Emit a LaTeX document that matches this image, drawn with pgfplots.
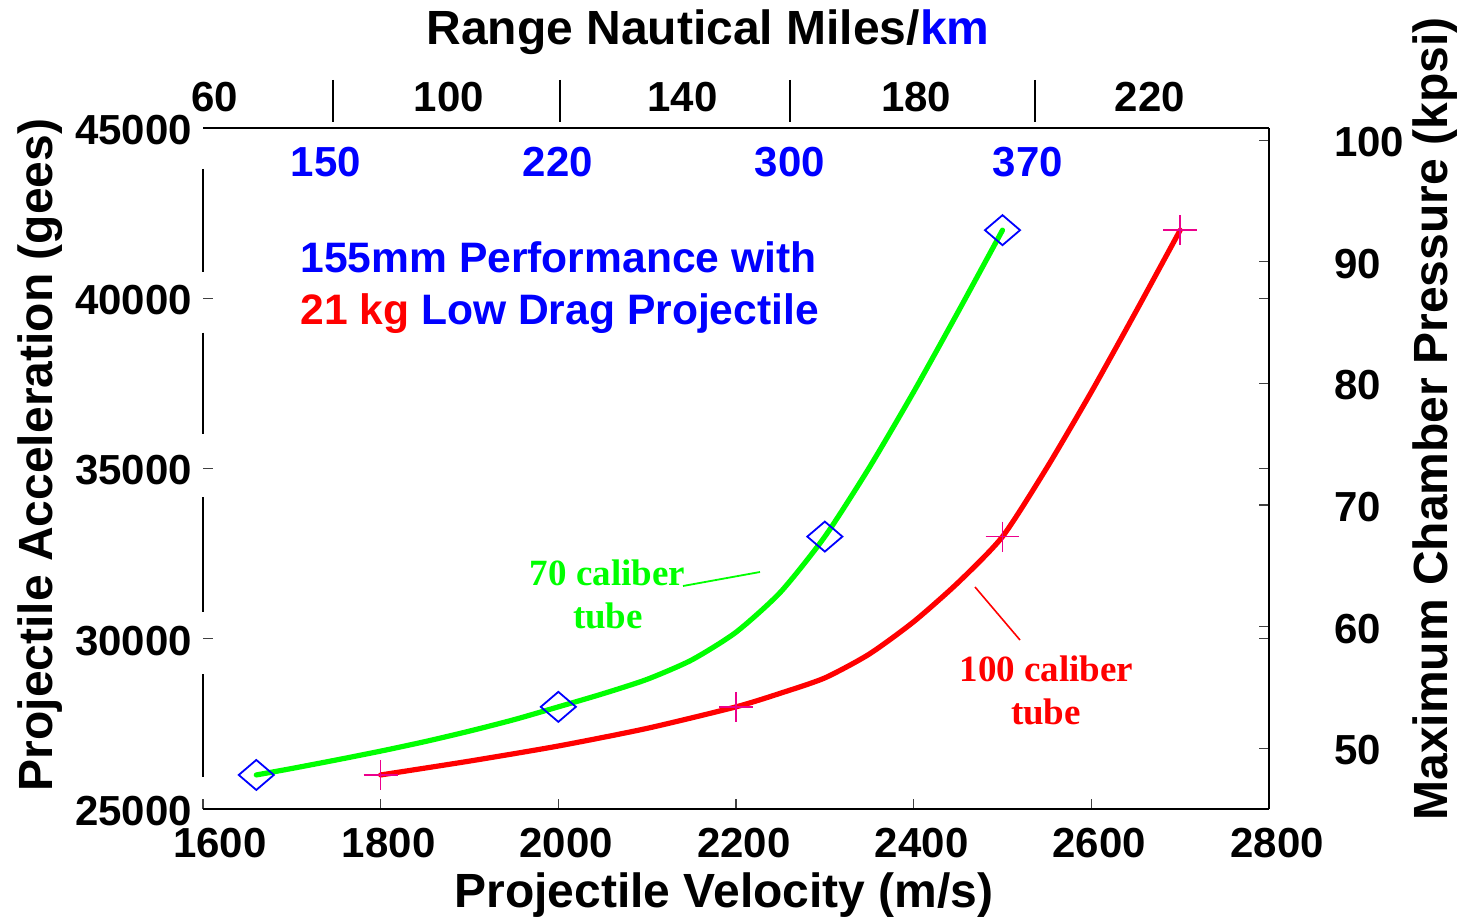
\documentclass[border=0pt]{standalone}
\usepackage{pgfplots}
\pgfplotsset{compat=1.18}
\usepackage{fontspec}
\setmainfont{Liberation Sans}
\newfontfamily\timesfont{Liberation Serif}
\newcommand{\tickfont}{\bfseries\fontsize{21}{21}\selectfont}
\newcommand{\labfont}{\bfseries\fontsize{24}{24}\selectfont}
\newcommand{\notefont}{\bfseries\fontsize{21.3}{21.3}\selectfont}
\newcommand{\tubefont}{\timesfont\bfseries\fontsize{18.5}{18.5}\selectfont}

\begin{document}
\begin{tikzpicture}
\path[use as bounding box] (0,0) rectangle (731pt,458.5pt);

% ---------- right axis: maximum chamber pressure (kpsi)
\begin{axis}[
  at={(101.5pt,54pt)}, anchor=south west, scale only axis,
  width=533pt, height=340.5pt,
  xmin=0, xmax=1, ymin=45, ymax=101,
  hide x axis, axis y line*=right, axis line style={draw=none},
  ytick={50,60,...,100},
  tick align=inside, major tick length=5pt,
  tick style={line width=0.6pt, black!75},
  yticklabel style={font=\tickfont, anchor=west, xshift=29pt, yshift=-1pt},
  /pgf/number format/assume math mode=true,
]
\end{axis}

% ---------- top axis: range in nautical miles / km
\begin{axis}[
  at={(101.5pt,54pt)}, anchor=south west, scale only axis,
  width=533pt, height=340.5pt,
  xmin=57.95, xmax=240.36, ymin=0, ymax=1,
  hide y axis, axis x line*=top, axis line style={draw=none},
  xtick={60,100,140,180,220}, major tick length=0pt,
  xticklabel style={font=\tickfont, yshift=4.5pt},
  extra x ticks={80.2,119.0,158.4,200.3},
  extra x tick labels={},
  extra x tick style={tick align=outside, major tick length=21pt,
    tick style={line width=0.8pt, black, yshift=3pt}},
  clip=false,
  /pgf/number format/assume math mode=true,
]
\node[font=\tickfont, text=blue] at (axis cs:79.0,0.95) {150};
\node[font=\tickfont, text=blue] at (axis cs:118.7,0.95) {220};
\node[font=\tickfont, text=blue] at (axis cs:158.4,0.95) {300};
\node[font=\tickfont, text=blue] at (axis cs:199.1,0.95) {370};
\end{axis}

% ---------- main axis
\begin{axis}[
  at={(101.5pt,54pt)}, anchor=south west, scale only axis,
  width=533pt, height=340.5pt,
  xmin=1600, xmax=2800, ymin=25000, ymax=45000,
  axis line style={draw=none},
  xtick={1800,2000,...,2800}, ytick={25000,30000,...,45000},
  extra x ticks={1600},
  extra x tick style={xticklabel style={xshift=4.5pt}},
  xtick pos=bottom, ytick pos=both, yticklabel pos=left,
  tick align=inside, major tick length=5pt,
  tick style={line width=0.6pt, black!75},
  tick label style={font=\tickfont},
  xticklabel style={xshift=4pt, yshift=-6pt},
  yticklabel style={xshift=-2pt, yshift=-1pt},
  scaled ticks=false,
  /pgf/number format/.cd, 1000 sep={}, assume math mode=true,
  /pgfplots/.cd,
  clip=false,
]
% frame
\draw[line width=1.3pt] (rel axis cs:0,0) -- (rel axis cs:1,0);
\draw[line width=1.3pt] (rel axis cs:0,1) -- (rel axis cs:1,1);
\draw[line width=0.9pt] (rel axis cs:1,0) -- (rel axis cs:1,1);
\draw[line width=0.9pt] (axis cs:1600,43800) -- (axis cs:1600,40780);
\draw[line width=0.9pt] (axis cs:1600,38990) -- (axis cs:1600,36000);
\draw[line width=0.9pt] (axis cs:1600,34150) -- (axis cs:1600,30780);
\draw[line width=0.9pt] (axis cs:1600,28960) -- (axis cs:1600,25940);

% 70 caliber tube
\addplot[green, line width=2.6pt, smooth, tension=0.4, line cap=round, line join=round] coordinates {
  (1660,26000) (1700,26190) (1750,26440) (1800,26700) (1850,26980)
  (1900,27288) (1950,27623) (2000,28000) (2050,28384) (2100,28809)
  (2150,29375) (2200,30192) (2250,31367) (2300,33000) (2350,35026)
  (2400,37250) (2450,39600) (2500,42000)};
% 100 caliber tube
\addplot[red, line width=2.6pt, smooth, tension=0.4, line cap=round, line join=round] coordinates {
  (1800,26000) (1900,26407) (2000,26850) (2100,27369) (2200,28000)
  (2250,28400) (2300,28850) (2350,29550) (2400,30500) (2450,31650)
  (2500,33000) (2550,35026) (2600,37250) (2650,39600) (2700,42000)};

\addplot[only marks, blue, mark=diamond, mark size=7.5pt,
  mark options={xscale=1.56, line width=0.9pt, fill=none}] coordinates {
  (1660,26000) (2000,28000) (2300,33000) (2500,42000)};
\addplot[only marks, magenta, mark=+, mark size=7.5pt,
  mark options={xscale=1.13, line width=0.8pt}] coordinates {
  (1800,26000) (2200,28000) (2500,33000) (2700,42000)};
\end{axis}

% ---------- titles and labels
\node[anchor=base, font=\labfont] at (354pt,436pt) {Range Nautical Miles/\textcolor{blue}{km}};
\node[anchor=base, font=\labfont] at (362pt,5pt) {Projectile Velocity (m/s)};
\node[anchor=base, rotate=90, font=\labfont] at (26pt,231pt) {Projectile Acceleration (gees)};
\node[anchor=base, rotate=90, font=\labfont] at (723.5pt,249pt) {Maximum Chamber Pressure (kpsi)};

\node[anchor=base west, font=\notefont, text=blue, inner sep=0pt] at (150pt,322pt) {155mm Performance with};
\node[anchor=base west, font=\notefont, text=blue, inner sep=0pt] at (150pt,296pt) {\textcolor{red}{21 kg} Low Drag Projectile};

\node[anchor=base, font=\tubefont, text=green, inner sep=0pt] at (303.75pt,166pt) {70 caliber};
\node[anchor=base, font=\tubefont, text=green, inner sep=0pt] at (304pt,144.5pt) {tube};
\draw[green, line width=0.9pt] (341.5pt,165.5pt) -- (380pt,172.5pt);

\node[anchor=base, font=\tubefont, text=red, inner sep=0pt] at (523.25pt,118pt) {100 caliber};
\node[anchor=base, font=\tubefont, text=red, inner sep=0pt] at (523pt,96.5pt) {tube};
\draw[red, line width=0.8pt] (487.5pt,165pt) -- (510pt,138.5pt);
\end{tikzpicture}
\end{document}
